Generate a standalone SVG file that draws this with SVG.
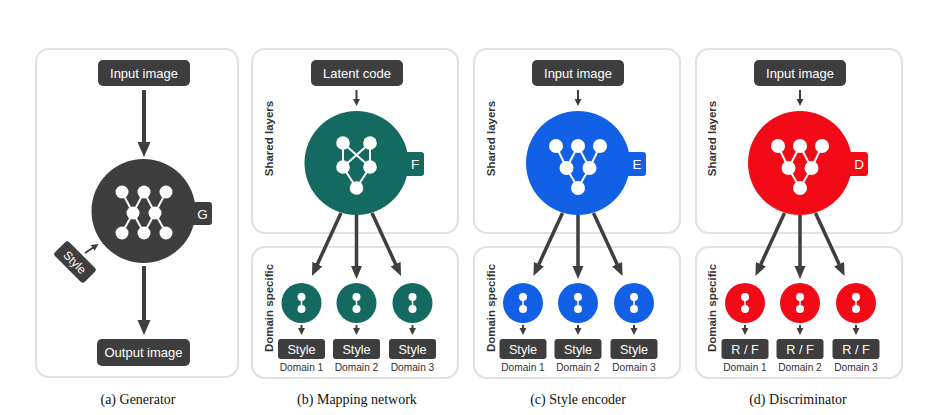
<svg xmlns="http://www.w3.org/2000/svg" width="927" height="415" viewBox="0 0 927 415">
  <style>
    .panel { fill: #ffffff; stroke: #e1e1e1; stroke-width: 2.2; }
    .box { fill: #3d3e3d; }
    .boxtxt { fill: #ffffff; font-family: "Liberation Sans", Arial, sans-serif; font-size: 13px; text-anchor: middle; }
    .styletxt { fill: #ffffff; font-family: "Liberation Sans", Arial, sans-serif; font-size: 12.7px; text-anchor: middle; }
    .tabtxt { fill: #ffffff; font-family: "Liberation Sans", Arial, sans-serif; font-size: 13.5px; text-anchor: middle; }
    .side { fill: #333333; font-family: "Liberation Sans", Arial, sans-serif; font-size: 11.5px; font-weight: bold; text-anchor: middle; }
    .dom { fill: #333333; font-family: "Liberation Sans", Arial, sans-serif; font-size: 10.2px; text-anchor: middle; }
    .cap { fill: #111111; font-family: "Liberation Serif", "Times New Roman", serif; font-size: 14px; text-anchor: middle; }
    .dark { fill: #3d3e3d; }
    .teal { fill: #146a61; }
    .blue { fill: #1160e6; }
    .red { fill: #f20a16; }
    .net line { stroke: #ffffff; stroke-width: 2; }
    .net circle { fill: #ffffff; }
    .arrow { stroke: #3d3e3d; fill: none; stroke-width: 3.5; marker-end: url(#head); }
    .arrowg { stroke: #3d3e3d; fill: none; stroke-width: 4; marker-end: url(#headg); }
    .arrows { stroke: #3d3e3d; fill: none; stroke-width: 2; marker-end: url(#heads); }
  </style>
  <defs>
    <marker id="head" markerUnits="userSpaceOnUse" markerWidth="14" markerHeight="12" refX="5" refY="5.5" orient="auto">
      <path d="M0,0 L13,5.5 L0,11 z" fill="#3d3e3d"/>
    </marker>
    <marker id="headg" markerUnits="userSpaceOnUse" markerWidth="16" markerHeight="14" refX="6" refY="6.5" orient="auto">
      <path d="M0,0 L15,6.5 L0,13 z" fill="#3d3e3d"/>
    </marker>
    <marker id="heads" markerUnits="userSpaceOnUse" markerWidth="8" markerHeight="8" refX="2.5" refY="3.5" orient="auto">
      <path d="M0,0 L7,3.5 L0,7 z" fill="#3d3e3d"/>
    </marker>
    <!-- generator network: 3-2-3 -->
    <g id="netG" class="net">
      <line x1="-22" y1="-19" x2="-11" y2="2"/>
      <line x1="0" y1="-19" x2="-11" y2="2"/>
      <line x1="0" y1="-19" x2="11" y2="2"/>
      <line x1="22" y1="-19" x2="11" y2="2"/>
      <line x1="-11" y1="2" x2="-22" y2="22"/>
      <line x1="-11" y1="2" x2="0" y2="22"/>
      <line x1="11" y1="2" x2="0" y2="22"/>
      <line x1="11" y1="2" x2="22" y2="22"/>
      <circle cx="-22" cy="-19" r="6.5"/>
      <circle cx="0" cy="-19" r="6.5"/>
      <circle cx="22" cy="-19" r="6.5"/>
      <circle cx="-11" cy="2" r="6.5"/>
      <circle cx="11" cy="2" r="6.5"/>
      <circle cx="-22" cy="22" r="6.5"/>
      <circle cx="0" cy="22" r="6.5"/>
      <circle cx="22" cy="22" r="6.5"/>
    </g>
    <!-- mapping network: 2-2-1 with crossing -->
    <g id="netF" class="net">
      <line x1="-13.5" y1="-20" x2="-13.5" y2="4"/>
      <line x1="13.5" y1="-20" x2="13.5" y2="4"/>
      <line x1="-13.5" y1="-20" x2="13.5" y2="4"/>
      <line x1="13.5" y1="-20" x2="-13.5" y2="4"/>
      <line x1="-13.5" y1="4" x2="0" y2="25"/>
      <line x1="13.5" y1="4" x2="0" y2="25"/>
      <circle cx="-13.5" cy="-20" r="6.8"/>
      <circle cx="13.5" cy="-20" r="6.8"/>
      <circle cx="-13.5" cy="4" r="6.8"/>
      <circle cx="13.5" cy="4" r="6.8"/>
      <circle cx="0" cy="25" r="6.8"/>
    </g>
    <!-- encoder / discriminator network: 3-2-1 -->
    <g id="netE" class="net">
      <line x1="-22" y1="-17" x2="-11.5" y2="5"/>
      <line x1="0" y1="-17" x2="-11.5" y2="5"/>
      <line x1="0" y1="-17" x2="11.5" y2="5"/>
      <line x1="22" y1="-17" x2="11.5" y2="5"/>
      <line x1="-11.5" y1="5" x2="0" y2="25"/>
      <line x1="11.5" y1="5" x2="0" y2="25"/>
      <circle cx="-22" cy="-17" r="7"/>
      <circle cx="0" cy="-17" r="7"/>
      <circle cx="22" cy="-17" r="7"/>
      <circle cx="-11.5" cy="5" r="7"/>
      <circle cx="11.5" cy="5" r="7"/>
      <circle cx="0" cy="25" r="7"/>
    </g>
    <!-- domain head: two units -->
    <g id="netD" class="net">
      <line x1="0" y1="-6" x2="0" y2="6" style="stroke-width:1.5"/>
      <circle cx="0" cy="-6" r="4"/>
      <circle cx="0" cy="6" r="4"/>
    </g>
  </defs>

  <!-- panel frames -->
  <g id="frames">
    <rect class="panel" x="36" y="49" width="202" height="328" rx="13"/>
    <rect class="panel" x="252" y="49" width="206" height="184" rx="13"/>
    <rect class="panel" x="252" y="247" width="206" height="131" rx="13"/>
    <rect class="panel" x="474" y="49" width="206" height="184" rx="13"/>
    <rect class="panel" x="474" y="247" width="206" height="131" rx="13"/>
    <rect class="panel" x="696" y="49" width="206" height="184" rx="13"/>
    <rect class="panel" x="696" y="247" width="206" height="131" rx="13"/>
  </g>

  <!-- side labels -->
  <g id="side-labels">
    <text class="side" x="268.5" y="138.5" transform="rotate(-90 268.5 138.5)" dy="4">Shared layers</text>
    <text class="side" x="268.5" y="308" transform="rotate(-90 268.5 308)" dy="4">Domain specific</text>
    <text class="side" x="490.5" y="138.5" transform="rotate(-90 490.5 138.5)" dy="4">Shared layers</text>
    <text class="side" x="490.5" y="308" transform="rotate(-90 490.5 308)" dy="4">Domain specific</text>
    <text class="side" x="712" y="138.5" transform="rotate(-90 712 138.5)" dy="4">Shared layers</text>
    <text class="side" x="712" y="308" transform="rotate(-90 712 308)" dy="4">Domain specific</text>
  </g>

  <!-- connectors -->
  <g id="connectors">
    <!-- generator -->
    <line class="arrowg" x1="144" y1="90" x2="144" y2="148"/>
    <line class="arrowg" x1="144" y1="266" x2="144" y2="326"/>
    <line class="arrows" x1="85" y1="253" x2="94.8" y2="246.5"/>
    <!-- mapping network -->
    <line class="arrows" x1="356.5" y1="90" x2="356.5" y2="101.5"/>
    <line class="arrow" x1="341" y1="213" x2="315.3" y2="268.7"/>
    <line class="arrow" x1="356.5" y1="213" x2="356.5" y2="271"/>
    <line class="arrow" x1="372" y1="213" x2="397.7" y2="268.7"/>
    <line class="arrows" x1="301.5" y1="325" x2="301.5" y2="330.5"/>
    <line class="arrows" x1="356.5" y1="325" x2="356.5" y2="330.5"/>
    <line class="arrows" x1="412.5" y1="325" x2="412.5" y2="330.5"/>
    <!-- style encoder -->
    <line class="arrows" x1="578" y1="90" x2="578" y2="101.5"/>
    <line class="arrow" x1="562.5" y1="213" x2="536.8" y2="268.7"/>
    <line class="arrow" x1="578" y1="213" x2="578" y2="271"/>
    <line class="arrow" x1="593.5" y1="213" x2="619.2" y2="268.7"/>
    <line class="arrows" x1="523" y1="325" x2="523" y2="330.5"/>
    <line class="arrows" x1="578" y1="325" x2="578" y2="330.5"/>
    <line class="arrows" x1="634" y1="325" x2="634" y2="330.5"/>
    <!-- discriminator -->
    <line class="arrows" x1="800" y1="90" x2="800" y2="101.5"/>
    <line class="arrow" x1="784.5" y1="213" x2="758.8" y2="268.7"/>
    <line class="arrow" x1="800" y1="213" x2="800" y2="271"/>
    <line class="arrow" x1="815.5" y1="213" x2="841.2" y2="268.7"/>
    <line class="arrows" x1="745" y1="325" x2="745" y2="330.5"/>
    <line class="arrows" x1="800" y1="325" x2="800" y2="330.5"/>
    <line class="arrows" x1="856" y1="325" x2="856" y2="330.5"/>
  </g>

  <!-- (a) generator -->
  <g id="gen-input">
    <rect class="box" x="98" y="60" width="92" height="26" rx="5"/>
    <text class="boxtxt" x="144" y="77.5">Input image</text>
  </g>
  <g id="gen-G">
    <rect class="dark" x="180" y="202" width="32" height="23" rx="3"/>
    <circle class="dark" cx="143.5" cy="211" r="52"/>
    <text class="tabtxt" x="202.5" y="219">G</text>
    <use href="#netG" x="144" y="211"/>
  </g>
  <g id="gen-style" transform="translate(75 262) rotate(45)">
    <rect class="box" x="-21" y="-10" width="42" height="20" rx="3"/>
    <text class="styletxt" x="0" y="4.5" style="font-size:12px">Style</text>
  </g>
  <g id="gen-output">
    <rect class="box" x="97" y="339" width="93" height="27" rx="5"/>
    <text class="boxtxt" x="143.5" y="357">Output image</text>
  </g>

  <!-- (b) mapping network -->
  <g id="map-latent">
    <rect class="box" x="311" y="60" width="92" height="26" rx="5"/>
    <text class="boxtxt" x="357" y="77.5">Latent code</text>
  </g>
  <g id="map-F">
    <rect class="teal" x="395" y="152" width="29" height="24" rx="3"/>
    <circle class="teal" cx="356.5" cy="163" r="52"/>
    <text class="tabtxt" x="415" y="169">F</text>
    <use href="#netF" x="356.5" y="163"/>
  </g>
  <g id="map-d1">
    <circle class="teal" cx="301.5" cy="303" r="20"/>
    <use href="#netD" x="301.5" y="303"/>
    <rect class="box" x="278" y="339" width="47" height="20" rx="3"/>
    <text class="styletxt" x="301.5" y="353.5">Style</text>
    <text class="dom" x="301.5" y="370.5">Domain 1</text>
  </g>
  <g id="map-d2">
    <circle class="teal" cx="356.5" cy="303" r="20"/>
    <use href="#netD" x="356.5" y="303"/>
    <rect class="box" x="333" y="339" width="47" height="20" rx="3"/>
    <text class="styletxt" x="356.5" y="353.5">Style</text>
    <text class="dom" x="356.5" y="370.5">Domain 2</text>
  </g>
  <g id="map-d3">
    <circle class="teal" cx="412.5" cy="303" r="20"/>
    <use href="#netD" x="412.5" y="303"/>
    <rect class="box" x="389" y="339" width="47" height="20" rx="3"/>
    <text class="styletxt" x="412.5" y="353.5">Style</text>
    <text class="dom" x="412.5" y="370.5">Domain 3</text>
  </g>

  <!-- (c) style encoder -->
  <g id="enc-input">
    <rect class="box" x="532" y="60" width="92" height="26" rx="5"/>
    <text class="boxtxt" x="578" y="77.5">Input image</text>
  </g>
  <g id="enc-E">
    <rect class="blue" x="617" y="152" width="29" height="24" rx="3"/>
    <circle class="blue" cx="578" cy="163" r="52"/>
    <text class="tabtxt" x="637" y="169">E</text>
    <use href="#netE" x="578" y="163"/>
  </g>
  <g id="enc-d1">
    <circle class="blue" cx="523" cy="303" r="20"/>
    <use href="#netD" x="523" y="303"/>
    <rect class="box" x="499.5" y="339" width="47" height="20" rx="3"/>
    <text class="styletxt" x="523" y="353.5">Style</text>
    <text class="dom" x="523" y="370.5">Domain 1</text>
  </g>
  <g id="enc-d2">
    <circle class="blue" cx="578" cy="303" r="20"/>
    <use href="#netD" x="578" y="303"/>
    <rect class="box" x="554.5" y="339" width="47" height="20" rx="3"/>
    <text class="styletxt" x="578" y="353.5">Style</text>
    <text class="dom" x="578" y="370.5">Domain 2</text>
  </g>
  <g id="enc-d3">
    <circle class="blue" cx="634" cy="303" r="20"/>
    <use href="#netD" x="634" y="303"/>
    <rect class="box" x="610.5" y="339" width="47" height="20" rx="3"/>
    <text class="styletxt" x="634" y="353.5">Style</text>
    <text class="dom" x="634" y="370.5">Domain 3</text>
  </g>

  <!-- (d) discriminator -->
  <g id="dis-input">
    <rect class="box" x="754" y="60" width="92" height="26" rx="5"/>
    <text class="boxtxt" x="800" y="77.5">Input image</text>
  </g>
  <g id="dis-D">
    <rect class="red" x="839" y="152" width="29" height="24" rx="3"/>
    <circle class="red" cx="800" cy="163" r="52"/>
    <text class="tabtxt" x="859" y="169">D</text>
    <use href="#netE" x="800" y="163"/>
  </g>
  <g id="dis-d1">
    <circle class="red" cx="745" cy="303" r="20"/>
    <use href="#netD" x="745" y="303"/>
    <rect class="box" x="721.5" y="339" width="47" height="20" rx="3"/>
    <text class="styletxt" x="745" y="353.5">R / F</text>
    <text class="dom" x="745" y="370.5">Domain 1</text>
  </g>
  <g id="dis-d2">
    <circle class="red" cx="800" cy="303" r="20"/>
    <use href="#netD" x="800" y="303"/>
    <rect class="box" x="776.5" y="339" width="47" height="20" rx="3"/>
    <text class="styletxt" x="800" y="353.5">R / F</text>
    <text class="dom" x="800" y="370.5">Domain 2</text>
  </g>
  <g id="dis-d3">
    <circle class="red" cx="856" cy="303" r="20"/>
    <use href="#netD" x="856" y="303"/>
    <rect class="box" x="832.5" y="339" width="47" height="20" rx="3"/>
    <text class="styletxt" x="856" y="353.5">R / F</text>
    <text class="dom" x="856" y="370.5">Domain 3</text>
  </g>

  <!-- captions -->
  <g id="captions">
    <text class="cap" x="138" y="404">(a) Generator</text>
    <text class="cap" x="357" y="404">(b) Mapping network</text>
    <text class="cap" x="578" y="404">(c) Style encoder</text>
    <text class="cap" x="798" y="404">(d) Discriminator</text>
  </g>
</svg>
